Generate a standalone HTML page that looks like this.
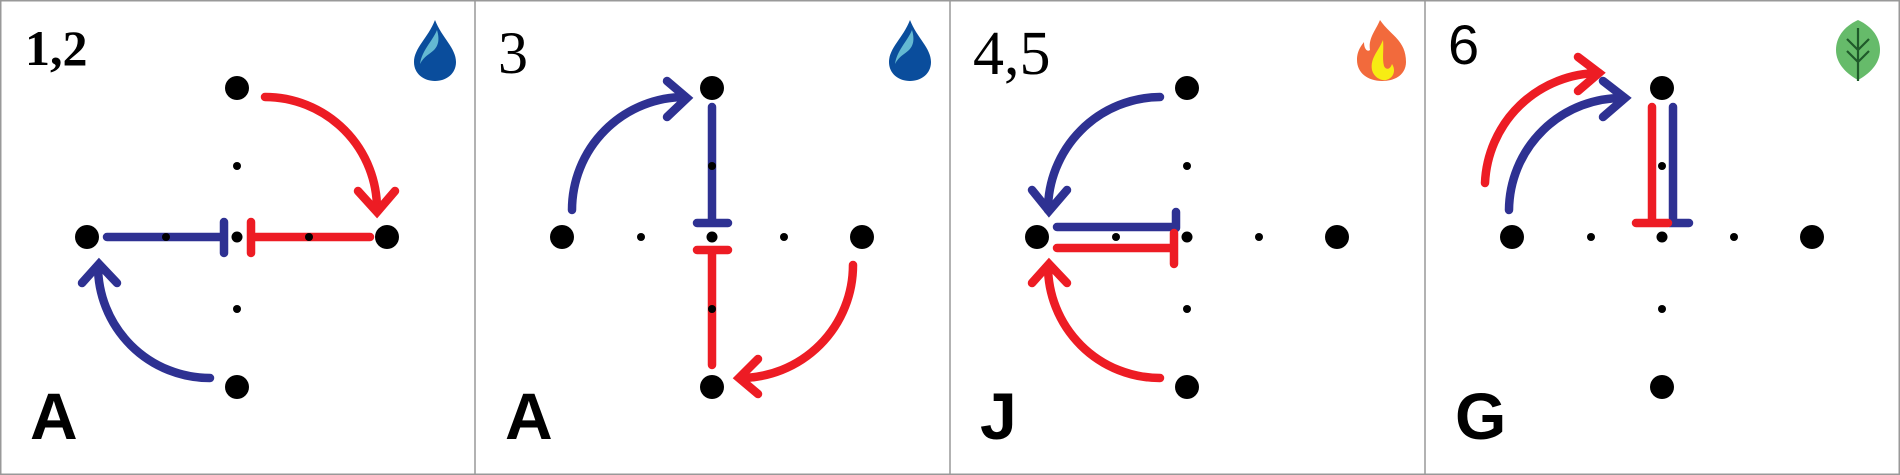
<!DOCTYPE html>
<html><head><meta charset="utf-8"><style>
html,body{margin:0;padding:0;background:#fff;}
svg{display:block;}
.lbl{font-family:"Liberation Serif",serif;fill:#000;}
.let{font-family:"Liberation Sans",sans-serif;font-weight:bold;fill:#000;}
</style></head><body>
<svg width="1900" height="475" viewBox="0 0 1900 475">
<defs>
<g id="dots">
<circle cx="237" cy="88" r="12"/><circle cx="87" cy="237" r="12"/><circle cx="387" cy="237" r="12"/><circle cx="237" cy="387" r="12"/>
<circle cx="237" cy="166" r="4"/><circle cx="237" cy="309" r="4"/><circle cx="166" cy="237" r="4"/><circle cx="309" cy="237" r="4"/><circle cx="237" cy="237" r="5.5"/>
</g>
<g id="drop">
<path d="M435,20 C428,38 414,48 414,62 C414,74 424,81 435,81 C446,81 456,74 456,62 C456,48 442,38 435,20Z" fill="#0a4d9c"/>
<path d="M437,30 C432,42 422,50 420,64 C424,56 430,54 434,50 C438,46 440,40 437,30Z" fill="#64b9d2"/>
</g>
</defs>
<g fill="none" stroke="#999" stroke-width="1.5">
<rect x="0.75" y="0.75" width="1898.5" height="473.5"/>
<line x1="475" y1="0" x2="475" y2="475"/><line x1="950" y1="0" x2="950" y2="475"/><line x1="1425" y1="0" x2="1425" y2="475"/>
</g>

<!-- Panel 1 -->
<g>
<text class="lbl" x="25" y="65" font-size="50" font-weight="bold">1,2</text>
<text class="let" x="30" y="439" font-size="66">A</text>
<use href="#drop"/>
<g stroke-width="8.5" stroke-linecap="round" stroke-linejoin="miter" fill="none">
<path d="M265,97 A112,112 0 0 1 377,210" stroke="#ed1c24"/>
<path d="M358,191 L377,212 L395,191" stroke="#ed1c24"/>
<path d="M370,237 L251,237 M251,222 L251,253" stroke="#ed1c24"/>
<path d="M107,237 L224,237 M224,222 L224,253" stroke="#2e3192"/>
<path d="M210,378 A112,112 0 0 1 98,266" stroke="#2e3192"/>
<path d="M82,283 L99,264 L117,283" stroke="#2e3192"/>
</g>
<use href="#dots"/>
</g>

<!-- Panel 2 -->
<g transform="translate(475,0)">
<text class="lbl" x="23" y="73" font-size="60">3</text>
<text class="let" x="30" y="439" font-size="66">A</text>
<use href="#drop"/>
<g stroke-width="8.5" stroke-linecap="round" fill="none">
<path d="M97,210 A113,113 0 0 1 210,97" stroke="#2e3192"/>
<path d="M192,81 L212,98 L192,117" stroke="#2e3192"/>
<path d="M237,107 L237,223 M222,223 L253,223" stroke="#2e3192"/>
<path d="M237,365 L237,250 M222,250 L253,250" stroke="#ed1c24"/>
<path d="M378,265 A113,113 0 0 1 265,378" stroke="#ed1c24"/>
<path d="M283,359 L264,378 L283,394" stroke="#ed1c24"/>
</g>
<use href="#dots"/>
</g>

<!-- Panel 3 -->
<g transform="translate(950,0)">
<text class="lbl" x="23" y="74" font-size="62">4,5</text>
<text class="let" x="30" y="439" font-size="66">J</text>
<g>
<path d="M430,20 C440,35 456,40 456,62 C456,74 446,81 432,81 C418,81 407,73 407,60 C407,50 412,45 414,42 C414,50 418,52 420,50 C418,38 426,30 430,20Z" fill="#f26a3c"/>
<path d="M433,40 C428,52 420,58 422,70 C424,78 432,81 436,80 C444,78 446,70 442,64 C440,70 436,70 434,66 C432,58 434,50 433,40Z" fill="#f7ec13"/>
</g>
<g stroke-width="8.5" stroke-linecap="round" fill="none">
<path d="M210,97 A113,113 0 0 0 98,210" stroke="#2e3192"/>
<path d="M82,190 L99,211 L117,190" stroke="#2e3192"/>
<path d="M107,227 L226,227 M226,212 L226,228" stroke="#2e3192"/>
<path d="M107,248 L224,248 M224,233 L224,264" stroke="#ed1c24"/>
<path d="M210,378 A112,112 0 0 1 98,266" stroke="#ed1c24"/>
<path d="M82,283 L99,264 L117,283" stroke="#ed1c24"/>
</g>
<use href="#dots"/>
</g>

<!-- Panel 4 -->
<g transform="translate(1425,0)">
<text x="23" y="64" font-size="56" font-family="Liberation Sans, sans-serif" fill="#000">6</text>
<text class="let" x="30" y="439" font-size="66">G</text>
<g>
<path d="M433,20 C418,27 411,38 411,50 C411,64 422,74 433,80 C444,74 455,64 455,50 C455,38 448,27 433,20Z" fill="#66bb6a"/>
<path d="M433,28 L433,81 M433,50 L422,39 M433,50 L444,39 M433,62 L422,51 M433,62 L444,51" stroke="#1f5a2a" stroke-width="2.2" fill="none"/>
</g>
<g stroke-width="8.5" stroke-linecap="round" fill="none">
<path d="M60,183 A115,115 0 0 1 174,73" stroke="#ed1c24"/>
<path d="M153,57 L174,73 L153,91" stroke="#ed1c24"/>
<path d="M84,210 A113,113 0 0 1 199,98" stroke="#2e3192"/>
<path d="M178,81 L200,98 L178,117" stroke="#2e3192"/>
<path d="M248,107 L248,223 L264,223" stroke="#2e3192"/>
<path d="M227,107 L227,223 M211,223 L243,223" stroke="#ed1c24"/>
</g>
<use href="#dots"/>
</g>
</svg>
</body></html>
